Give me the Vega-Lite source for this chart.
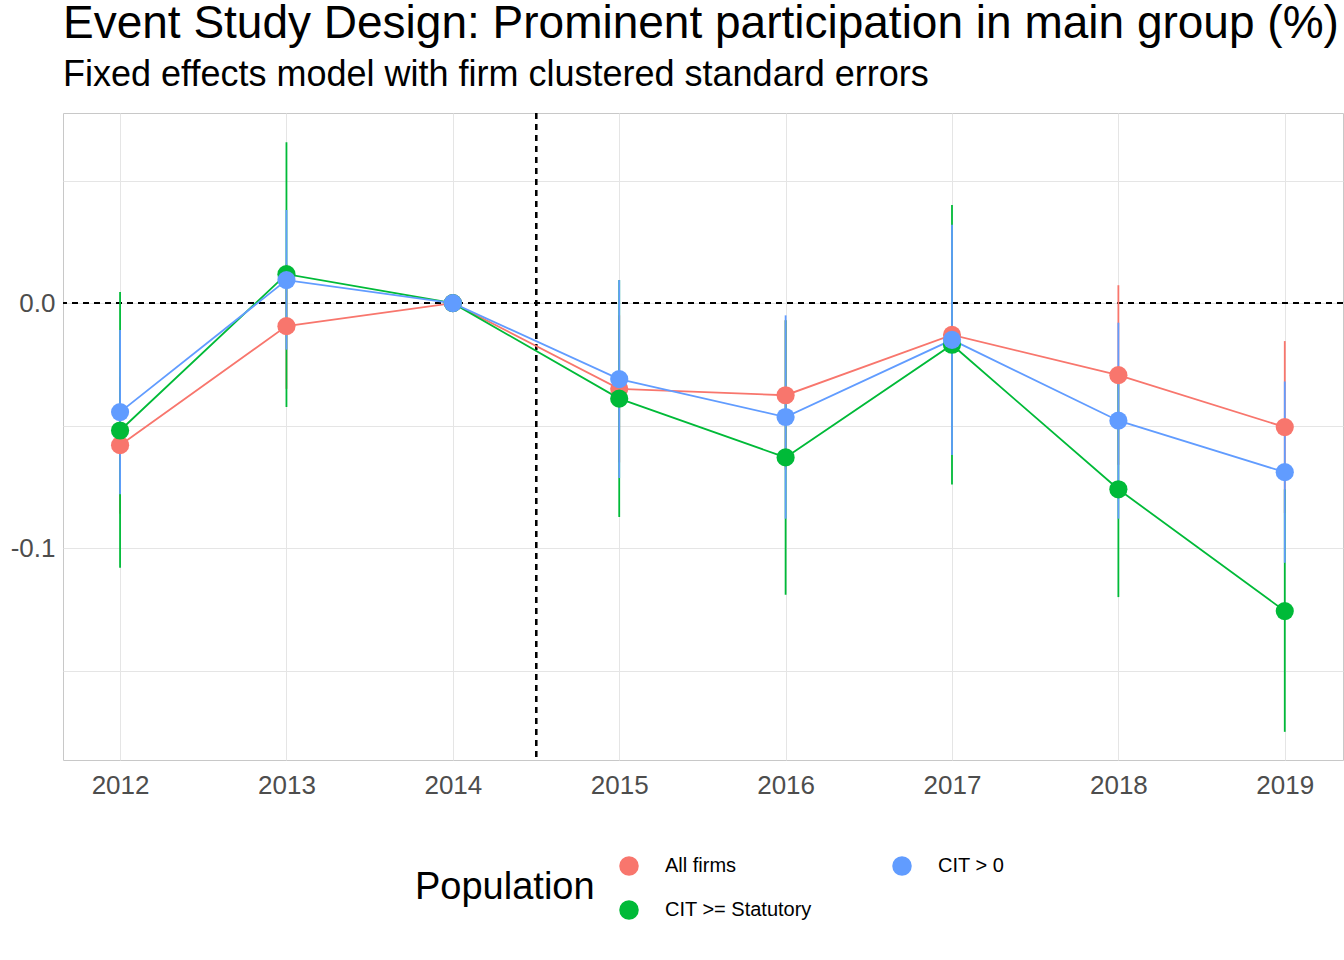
{
  "$schema": "https://vega.github.io/schema/vega-lite/v6.json",
  "width": 1280, "height": 647,
  "autosize": {"type": "none"},
  "padding": {"left": 63, "top": 113, "right": 1, "bottom": 200},
  "background": "white",
  "config": {
    "font": "Liberation Sans",
    "view": {"stroke": "#c8c8c8", "strokeWidth": 1},
    "axis": {"grid": true, "gridColor": "#e5e5e5", "domain": false, "ticks": false, "labelFontSize": 26, "labelColor": "#4d4d4d", "title": null}
  },
  "title": {
    "text": "Event Study Design: Prominent participation in main group (%)",
    "subtitle": "Fixed effects model with firm clustered standard errors",
    "anchor": "start", "frame": "group", "offset": 18,
    "fontSize": 46, "fontWeight": "normal", "color": "black",
    "subtitleFontSize": 36, "subtitleColor": "black", "subtitlePadding": 10
  },
  "data": {"values": [
    {"year": 2012, "group": "All firms", "est": -0.058, "lo": -0.086, "hi": -0.030},
    {"year": 2013, "group": "All firms", "est": -0.0094, "lo": -0.035, "hi": 0.016},
    {"year": 2014, "group": "All firms", "est": 0, "lo": 0, "hi": 0},
    {"year": 2015, "group": "All firms", "est": -0.035, "lo": -0.065, "hi": -0.005},
    {"year": 2016, "group": "All firms", "est": -0.0376, "lo": -0.068, "hi": -0.007},
    {"year": 2017, "group": "All firms", "est": -0.013, "lo": -0.045, "hi": 0.019},
    {"year": 2018, "group": "All firms", "est": -0.0294, "lo": -0.066, "hi": 0.0073},
    {"year": 2019, "group": "All firms", "est": -0.0506, "lo": -0.0857, "hi": -0.0155},
    {"year": 2012, "group": "CIT >= Statutory", "est": -0.052, "lo": -0.108, "hi": 0.0045},
    {"year": 2013, "group": "CIT >= Statutory", "est": 0.0118, "lo": -0.0424, "hi": 0.0657},
    {"year": 2014, "group": "CIT >= Statutory", "est": 0, "lo": 0, "hi": 0},
    {"year": 2015, "group": "CIT >= Statutory", "est": -0.039, "lo": -0.0873, "hi": 0.0094},
    {"year": 2016, "group": "CIT >= Statutory", "est": -0.063, "lo": -0.119, "hi": -0.007},
    {"year": 2017, "group": "CIT >= Statutory", "est": -0.017, "lo": -0.074, "hi": 0.040},
    {"year": 2018, "group": "CIT >= Statutory", "est": -0.076, "lo": -0.120, "hi": -0.032},
    {"year": 2019, "group": "CIT >= Statutory", "est": -0.1257, "lo": -0.175, "hi": -0.076},
    {"year": 2012, "group": "CIT > 0", "est": -0.0445, "lo": -0.078, "hi": -0.011},
    {"year": 2013, "group": "CIT > 0", "est": 0.0094, "lo": -0.019, "hi": 0.038},
    {"year": 2014, "group": "CIT > 0", "est": 0, "lo": 0, "hi": 0},
    {"year": 2015, "group": "CIT > 0", "est": -0.031, "lo": -0.0714, "hi": 0.0094},
    {"year": 2016, "group": "CIT > 0", "est": -0.0465, "lo": -0.088, "hi": -0.005},
    {"year": 2017, "group": "CIT > 0", "est": -0.015, "lo": -0.062, "hi": 0.032},
    {"year": 2018, "group": "CIT > 0", "est": -0.048, "lo": -0.088, "hi": -0.008},
    {"year": 2019, "group": "CIT > 0", "est": -0.069, "lo": -0.106, "hi": -0.032}
  ]},
  "encoding": {
    "x": {"field": "year", "type": "quantitative",
      "scale": {"domain": [2011.657, 2019.35], "nice": false, "zero": false},
      "axis": {"values": [2012, 2013, 2014, 2015, 2016, 2017, 2018, 2019], "format": "d", "gridColor": "#e5e5e5", "labelPadding": 12}},
    "color": {"field": "group", "type": "nominal",
      "scale": {"domain": ["All firms", "CIT > 0", "CIT >= Statutory"], "range": ["#F8766D", "#619CFF", "#00BA38"]},
      "legend": {"title": "Population", "orient": "none", "legendX": 352, "legendY": 743, "direction": "horizontal", "columns": 2,
        "titleOrient": "left", "titleFontSize": 38, "titleFontWeight": "normal", "titleColor": "black", "titlePadding": 24,
        "labelFontSize": 20, "labelColor": "black", "symbolType": "circle", "symbolSize": 380, "symbolStrokeWidth": 0,
        "symbolOpacity": 1, "rowPadding": 24, "columnPadding": 80, "labelOffset": 26, "symbolLimit": 3}}
  },
  "layer": [
    {"mark": {"type": "rule", "strokeDash": [6, 5], "color": "black", "strokeWidth": 2}, "encoding": {"x": {"datum": 2014.5}, "color": {"value": "black"}}},
    {"mark": {"type": "rule", "strokeDash": [6, 5], "color": "black", "strokeWidth": 2}, "encoding": {"y": {"datum": 0}, "x": null, "color": {"value": "black"}}},
    {"mark": {"type": "rule", "strokeWidth": 1.8}, "encoding": {
      "y": {"field": "lo", "type": "quantitative", "scale": {"domain": [-0.1865, 0.0776], "nice": false, "zero": false},
        "axis": {"values": [-0.15, -0.1, -0.05, 0, 0.05], "labelExpr": "datum.value == 0 ? '0.0' : datum.value == -0.1 ? '-0.1' : ''", "labelPadding": 8}},
      "y2": {"field": "hi"}}},
    {"mark": {"type": "line", "strokeWidth": 1.8}, "encoding": {"y": {"field": "est", "type": "quantitative"}}},
    {"mark": {"type": "circle", "size": 330, "opacity": 1}, "encoding": {"y": {"field": "est", "type": "quantitative"}}}
  ]
}
